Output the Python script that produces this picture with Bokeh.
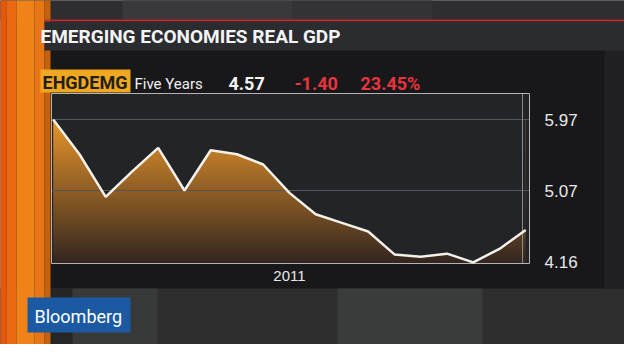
import numpy as np
from bokeh.plotting import figure
from bokeh.models import Range1d, FixedTicker, NumeralTickFormatter, LinearAxis, ColumnDataSource
from bokeh.core.properties import value
from bokeh.embed import file_html
from bokeh.resources import INLINE

# ---------------- data ----------------
title_text = "EMERGING ECONOMIES REAL GDP"
ticker_code = "EHGDEMG"
period_label = "Five Years"
last_value = "4.57"
change_value = "-1.40"
change_pct = "23.45%"
brand = "Bloomberg"

gdp = [5.97, 5.53, 4.99, 5.31, 5.61, 5.07, 5.58, 5.53, 5.40, 5.04,
       4.77, 4.66, 4.55, 4.26, 4.23, 4.27, 4.16, 4.33, 4.57]
period = list(range(len(gdp)))
y_ticks = [4.16, 5.07, 5.97]
x_ticks = [9]
x_tick_labels = ["2011"]

# ---------------- canvas ----------------
W, H = 624, 344
M = 8  # page margin: reference pixel -> canvas pixel
TDY = -6  # baseline correction for text glyphs
FRAME_BG = "#232428"
PANEL = "#18181a"

p = figure(width=W, height=H, output_backend="svg", toolbar_location=None,
           x_range=Range1d(0, W), y_range=Range1d(H, 0),
           x_axis_type=None, y_axis_type=None,
           min_border_left=0, min_border_right=0,
           min_border_top=0, min_border_bottom=0)
p.outline_line_color = None
p.background_fill_color = PANEL
p.border_fill_color = PANEL
p.xgrid.visible = False
p.ygrid.visible = False

# chart area (canvas px) and the value ranges it shows
CL, CR, CT, CB = 59 - M, 537 - M, 101 - M, 271 - M
x_lo, x_hi = period[0] - 0.065, period[-1] + 0.145
y_lo, y_hi = 4.145, 6.30
sx = (x_hi - x_lo) / (CR - CL)
sy = (y_hi - y_lo) / (CB - CT)
p.extra_x_ranges = {"chart": Range1d(x_lo - CL * sx, x_hi + (W - CR) * sx)}
p.extra_y_ranges = {"chart": Range1d(y_lo - (H - CB) * sy, y_hi + CT * sy)}
ch = dict(x_range_name="chart", y_range_name="chart")

# ---------------- decorations (reference pixel coords) ----------------
deco = [
    (0, 640, 0, 27, "#2e2e30"),
    (130, 300, 0, 27, "#39393b"),
    (300, 440, 0, 27, "#333335"),
    (0, 640, 296, 360, "#2e2e2f"),
    (58, 80, 296, 360, "#262627"),
    (80, 165, 296, 360, "#383939"),
    (345, 490, 296, 360, "#3a3b3b"),
    (612, 640, 27, 296, "#202022"),
    (0, 14, 0, 360, "#e4580c"),
    (14, 24, 0, 360, "#ea6810"),
    (24, 42, 0, 360, "#ef8318"),
    (42, 52, 0, 360, "#e87616"),
    (52, 58, 0, 360, "#c4620f"),
    (52, 640, 27, 29, "#c92a2a"),
    (52, 640, 29, 58, "#2b2c30"),
    (48, 138, 77, 100, "#f0a820"),
    (35, 138, 305, 340, "#1b5aa3"),
]
dsrc = ColumnDataSource(dict(
    left=[d[0] - M for d in deco], right=[d[1] - M for d in deco],
    top=[d[2] - M for d in deco], bottom=[d[3] - M for d in deco],
    color=[d[4] for d in deco]))
p.quad(left="left", right="right", top="top", bottom="bottom",
       fill_color="color", line_color=None, source=dsrc)


def txt(x, y, text, size, color, font, style="normal"):
    p.text(x=[x - M], y=[y - M + TDY], text=[text], text_font=value(font),
           text_font_size=value(f"{size}px"), text_font_style=style,
           text_color=color, text_align="left", text_baseline="alphabetic")


F = "Roboto"
txt(48, 50, title_text, 19, "#f4f4f4", F, "bold")
txt(50, 96, ticker_code, 18, "#231f18", F, "bold")
txt(142, 97, period_label, 15, "#f0f0f0", F)
txt(236, 97, last_value, 18, "#f4f4f4", F, "bold")
txt(302, 97, change_value, 18, "#e8343c", F, "bold")
txt(368, 97, change_pct, 18, "#e8343c", F, "bold")
txt(42, 330, brand, 18, "#ffffff", F)

# ---------------- chart ----------------
p.quad(left=x_lo, right=x_hi, bottom=y_lo, top=y_hi, fill_color=FRAME_BG,
       line_color=None, **ch)

rows = 170
top_c = np.array([234, 150, 42], dtype=float)
bot_c = np.array([52, 38, 32], dtype=float)
t = np.linspace(0, 1, rows)[:, None]
cols = (bot_c * (1 - t) + top_c * t).astype(np.uint8)
img = np.empty((rows, 2), dtype=np.uint32)
view = img.view(dtype=np.uint8).reshape((rows, 2, 4))
for k in range(3):
    view[:, :, k] = cols[:, k][:, None]
view[:, :, 3] = 255
p.image_rgba(image=[img], x=period[0], y=y_lo, dw=period[-1] - period[0],
             dh=max(gdp) - y_lo, **ch)
p.varea(x=period, y1=gdp, y2=[y_hi] * len(gdp), fill_color=FRAME_BG, **ch)

# grid lines
grid_y = y_ticks[1:]
p.segment(x0=[x_lo] * len(grid_y), x1=[x_hi] * len(grid_y), y0=grid_y, y1=grid_y,
          line_color="#56575c", line_width=1, **ch)
# cursor line and frame outline
p.segment(x0=[530 - M], x1=[530 - M], y0=[CT], y1=[CB], line_color="#8c8c8c", line_width=1)
p.quad(left=x_lo, right=x_hi, bottom=y_lo, top=y_hi, fill_color=None,
       line_color="#b4b4b4", line_width=1, **ch)

p.line(period, gdp, line_color="#f4f0ea", line_width=2.5, **ch)

# axes
ya = LinearAxis(fixed_location=x_hi, ticker=FixedTicker(ticks=y_ticks),
                formatter=NumeralTickFormatter(format="0.00"), **ch)
ya.axis_line_color = None
ya.major_tick_line_color = None
ya.minor_tick_line_color = None
ya.major_label_standoff = 9
ya.major_label_text_font = "Liberation Sans"
ya.major_label_text_font_size = "17px"
ya.major_label_text_color = "#e8e8e8"
p.add_layout(ya, "right")

xa = LinearAxis(fixed_location=y_lo, ticker=FixedTicker(ticks=x_ticks), **ch)
xa.major_label_overrides = dict(zip(x_ticks, x_tick_labels))
xa.axis_line_color = None
xa.major_tick_line_color = None
xa.minor_tick_line_color = None
xa.major_label_standoff = 1
xa.major_label_text_font = "Liberation Sans"
xa.major_label_text_font_size = "15px"
xa.major_label_text_color = "#e8e8e8"
p.add_layout(xa, "below")

html = file_html(p, INLINE, title="Emerging Economies Real GDP")
html = html.replace("<body>", '<body style="background: linear-gradient(90deg, #e4580c 0px, #e4580c 8px, #2c2c2e 8px);">', 1)
open("out.html", "w").write(html)
